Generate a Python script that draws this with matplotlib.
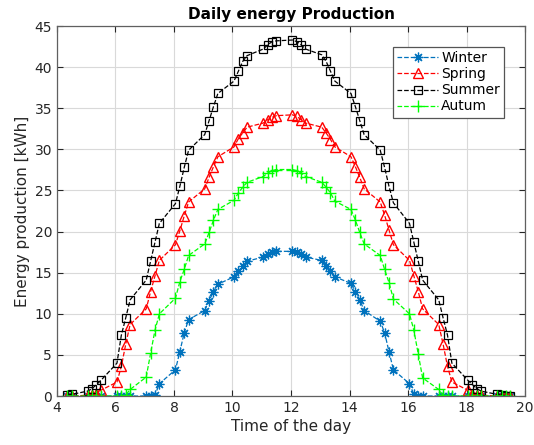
import matplotlib
matplotlib.use("Agg")
import matplotlib.pyplot as plt

# Time stamps are hour.minute values (e.g. 8.20 = 8:20), plotted as-is
times = [4.35, 4.50,
         5.05, 5.20, 5.35, 5.50,
         6.05, 6.20, 6.35, 6.50,
         7.05, 7.20, 7.35, 7.50,
         8.05, 8.20, 8.35, 8.50,
         9.05, 9.20, 9.35, 9.50,
         10.05, 10.20, 10.35, 10.50,
         11.05, 11.20, 11.35, 11.50,
         12.05, 12.20, 12.35, 12.50,
         13.05, 13.20, 13.35, 13.50,
         14.05, 14.20, 14.35, 14.50,
         15.05, 15.20, 15.35, 15.50,
         16.05, 16.20, 16.35, 16.50,
         17.05, 17.20, 17.35, 17.50,
         18.05, 18.20, 18.35, 18.50,
         19.05, 19.20, 19.35, 19.50]

winter = [0.0, 0.0,
          0.0, 0.0, 0.0, 0.0,
          0.0, 0.0, 0.0, 0.0,
          0.0, 0.0, 0.1, 1.5,
          3.2, 5.4, 7.7, 9.3,
          10.4, 11.6, 12.7, 13.6,
          14.5, 15.2, 15.8, 16.4,
          16.9, 17.3, 17.5, 17.6,
          17.6, 17.5, 17.3, 16.9,
          16.5, 15.8, 15.2, 14.5,
          13.7, 12.7, 11.7, 10.4,
          9.1, 7.7, 5.4, 3.2,
          1.5, 0.2, 0.0, 0.0,
          0.0, 0.0, 0.0, 0.0,
          0.0, 0.0, 0.0, 0.0,
          0.0, 0.0, 0.0, 0.0]

spring = [0.0, 0.0,
          0.1, 0.15, 0.3, 0.7,
          1.7, 3.6, 6.3, 8.7,
          10.6, 12.7, 14.6, 16.5,
          18.4, 20.1, 21.9, 23.6,
          25.2, 26.6, 27.9, 29.1,
          30.3, 31.3, 32.0, 32.7,
          33.2, 33.6, 33.9, 34.1,
          34.2, 34.0, 33.6, 33.2,
          32.7, 32.0, 31.2, 30.3,
          29.1, 27.9, 26.6, 25.2,
          23.6, 22.0, 20.2, 18.4,
          16.5, 14.6, 12.7, 10.6,
          8.7, 6.3, 3.6, 1.7,
          0.7, 0.3, 0.15, 0.1,
          0.0, 0.0, 0.0, 0.0]

summer = [0.1, 0.2,
          0.6, 0.9, 1.4, 1.9,
          4.0, 7.4, 9.5, 11.7,
          14.1, 16.4, 18.7, 21.0,
          23.4, 25.5, 27.8, 29.9,
          31.8, 33.5, 35.2, 36.8,
          38.3, 39.5, 40.7, 41.4,
          42.2, 42.7, 43.1, 43.2,
          43.3, 43.1, 42.7, 42.2,
          41.5, 40.7, 39.5, 38.3,
          36.8, 35.2, 33.5, 31.8,
          29.9, 27.8, 25.5, 23.5,
          21.0, 18.7, 16.4, 14.1,
          11.7, 9.5, 7.4, 4.0,
          1.9, 1.4, 0.9, 0.6,
          0.2, 0.1, 0.05, 0.0]

autumn = [0.0, 0.0,
          0.0, 0.0, 0.0, 0.0,
          0.0, 0.0, 0.1, 0.8,
          2.3, 5.2, 8.0, 10.0,
          11.9, 13.9, 15.4, 17.1,
          18.5, 19.9, 21.4, 22.7,
          23.8, 24.7, 25.4, 26.0,
          26.7, 27.1, 27.4, 27.55,
          27.55, 27.4, 27.1, 26.7,
          26.0, 25.4, 24.7, 23.7,
          22.7, 21.4, 19.9, 18.5,
          17.1, 15.4, 13.8, 11.8,
          10.0, 8.0, 5.1, 2.2,
          0.8, 0.1, 0.0, 0.0,
          0.0, 0.0, 0.0, 0.0,
          0.0, 0.0, 0.0, 0.0]

x_ticks = [4, 6, 8, 10, 12, 14, 16, 18, 20]
y_ticks = [0, 5, 10, 15, 20, 25, 30, 35, 40, 45]

plt.rcParams['font.family'] = ['DejaVu Sans']

fig = plt.figure(figsize=(5.34, 4.45), dpi=100)
ax = fig.add_axes([0.1067, 0.110, 0.8765, 0.8315])

# asterisk marker (plus + cross) for winter
ax.plot(times, winter, '--', color='#0072BD', lw=0.9, marker=(8, 2, 0), ms=7,
        mew=0.9, label='Winter')
ax.plot(times, spring, '--', color='#FF0000', lw=0.9, marker='^', ms=7,
        mfc='none', mew=1.0, label='Spring')
ax.plot(times, summer, '--', color='black', lw=0.9, marker='s', ms=5.5,
        mfc='none', mew=0.9, label='Summer')
ax.plot(times, autumn, '--', color='#00FF00', lw=0.9, marker='+', ms=8,
        mew=1.0, label='Autum')

ax.set_xlim(4, 20)
ax.set_ylim(0, 45)
ax.set_xticks(x_ticks)
ax.set_yticks(y_ticks)
ax.grid(True, color='#d9d9d9', lw=0.8)
ax.set_axisbelow(True)
ax.tick_params(direction='in', length=4, top=True, right=True,
               labelsize=10, colors='#262626', width=0.8)
for s in ax.spines.values():
    s.set_color('#606060')
    s.set_linewidth(0.9)

ax.set_title('Daily energy Production', fontsize=11, fontweight='bold', pad=5)
ax.set_xlabel('Time of the day', fontsize=11, color='#262626', labelpad=3)
ax.set_ylabel('Energy production [kWh]', fontsize=11, color='#262626', labelpad=3)

leg = ax.legend(loc='upper right', bbox_to_anchor=(0.97, 0.962), fontsize=10,
                handlelength=3.0, handletextpad=0.2, borderpad=0.3,
                labelspacing=0.15, fancybox=False, framealpha=1)
leg.get_frame().set_edgecolor('#555555')
leg.get_frame().set_linewidth(0.9)

fig.savefig('out.png', dpi=100)
